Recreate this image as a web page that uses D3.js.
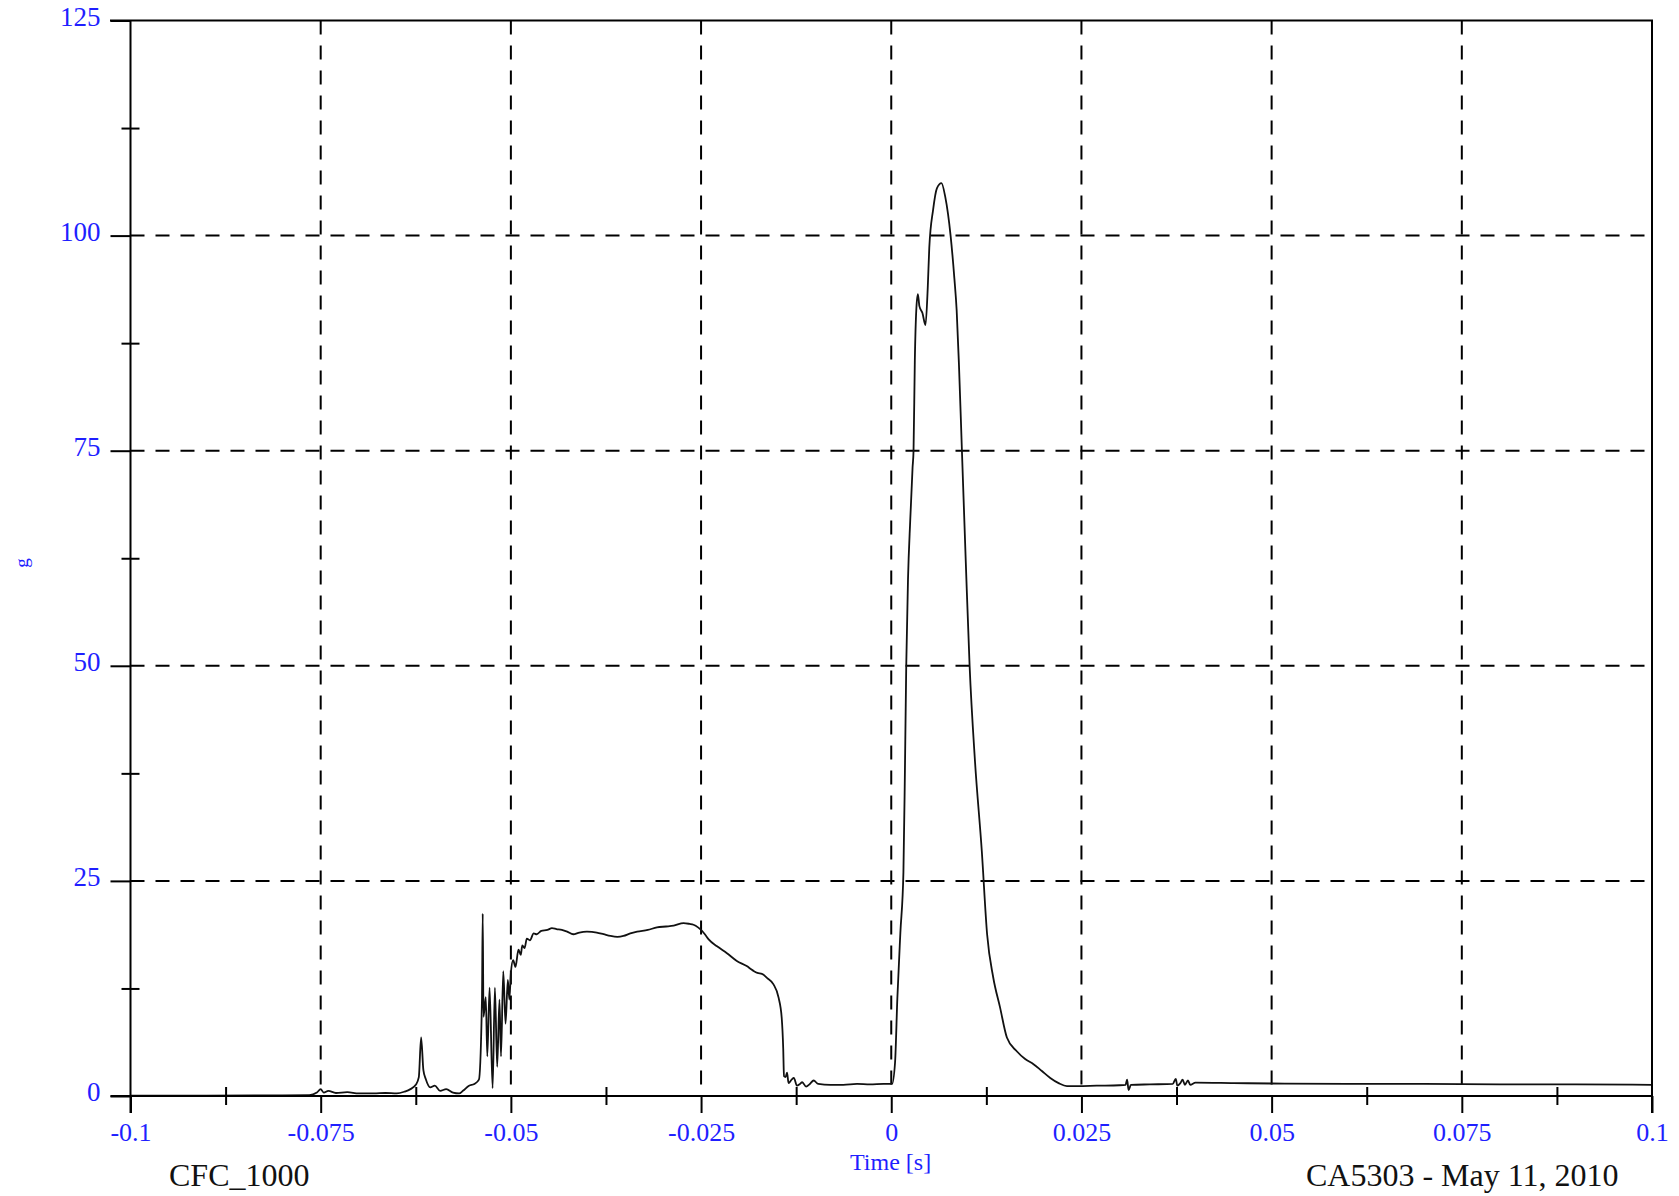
<!DOCTYPE html>
<html>
<head>
<meta charset="utf-8">
<script src="https://cdn.jsdelivr.net/npm/d3@7"></script>
<style>
html,body{margin:0;padding:0;background:#fff;}
svg{display:block;}
</style>
</head>
<body>
<svg id="chart" width="1679" height="1196"></svg>
<script>
// ---- data ----
const times = [
-0.1,-0.09,-0.08,-0.0765,-0.0755,-0.0750,-0.0746,-0.0740,-0.0730,-0.0715,-0.0700,-0.0680,-0.0665,-0.0650,-0.0640,-0.0632,-0.0625,-0.0621,-0.0618,-0.0615,-0.0612,-0.0606,-0.0600,-0.0593,-0.0585,-0.0576,-0.0568,-0.0563,-0.0555,-0.0548,-0.0542,
-0.0538,-0.0537,-0.0536,-0.0533,-0.0531,-0.0528,-0.0524,-0.0521,-0.0518,-0.0515,-0.0513,-0.0510,-0.0507,-0.0504,-0.0502,-0.0500,-0.0497,-0.0494,-0.0490,-0.0487,-0.0485,-0.0482,-0.0479,-0.0475,-0.0470,-0.0466,-0.0460,-0.0452,-0.0446,-0.0440,-0.0433,-0.0426,-0.0418,-0.0410,-0.0400,-0.0387,-0.0378,-0.0369,-0.0360,-0.0352,-0.0343,-0.0334,-0.0320,-0.0308,-0.0296,-0.0286,-0.0273,-0.0265,-0.0260,-0.0254,-0.0250,-0.0245,-0.0240,-0.0229,-0.0216,-0.0203,-0.0190,-0.0182,-0.0176,-0.0170,-0.0163,-0.0155,-0.0148,-0.0144,-0.0142,-0.0141,-0.0139,-0.0137,-0.0135,-0.0131,-0.0128,-0.0124,-0.0120,-0.0117,-0.0112,-0.0107,-0.0102,-0.0096,-0.0080,-0.0063,-0.0045,-0.0028,-0.0010,0.0001,
0.0005,0.0008,0.0012,0.0016,0.0018,0.00197,0.0022,0.0025,0.0028,0.00293,0.0031,0.0033,0.0035,0.0037,0.0041,0.0045,0.0048,0.0050,0.0055,0.0060,0.0066,0.0071,0.0078,0.0083,0.0086,0.0089,0.00929,0.0098,0.0103,0.0110,0.0119,0.0126,0.0134,0.0143,0.0152,0.0165,0.0176,0.0187,0.0198,0.0209,0.0220,0.0231,0.0245,0.0270,0.0300,0.0308,0.0310,0.0312,0.0315,0.0340,0.0370,0.0374,0.0376,0.0380,0.0383,0.0386,0.0390,0.0393,0.0400,0.0450,0.0500,0.0600,0.0700,0.0800,0.0900,0.1000
];
const accel = [
0.05,0.05,0.08,0.1,0.4,0.8,0.4,0.6,0.35,0.45,0.3,0.3,0.35,0.3,0.5,0.8,1.3,2.2,6.8,3.0,2.0,1.0,1.2,0.6,0.8,0.4,0.3,0.6,1.2,1.4,1.9,
11.2,21.2,9.2,11.5,4.6,12.6,0.9,12.6,3.4,11.2,4.6,14.5,8.4,13.5,11.2,14.3,15.8,15.0,17.0,16.4,17.5,17.2,18.3,18.1,18.9,18.8,19.2,19.3,19.5,19.4,19.3,19.1,18.8,19.0,19.1,19.0,18.8,18.6,18.5,18.6,18.9,19.1,19.3,19.6,19.7,19.8,20.1,20.0,19.9,19.6,19.3,18.8,18.2,17.4,16.6,15.7,15.1,14.6,14.3,14.2,13.7,13.0,11.4,9.1,5.5,2.3,2.2,2.7,1.5,1.9,2.1,1.2,1.4,1.6,1.1,1.4,1.8,1.4,1.3,1.3,1.4,1.35,1.4,1.4,
3.9,11.3,19.0,26.0,38,50,60,67,73,75,85.5,91.5,93.2,91.8,91.0,89.6,94.0,98.6,103.0,105.5,106.1,104.5,100.0,95.0,91.3,85.0,75,62,50,39,28.5,18.8,13.8,10.3,6.8,5.2,4.3,3.7,2.9,2.1,1.5,1.15,1.15,1.2,1.25,1.3,1.9,0.7,1.3,1.35,1.4,2.0,1.2,1.5,1.9,1.3,1.8,1.3,1.55,1.5,1.45,1.4,1.4,1.35,1.35,1.3
];
const xMajorTicks = [-0.1,-0.075,-0.05,-0.025,0,0.025,0.05,0.075,0.1];
const xTickLabels = ["-0.1","-0.075","-0.05","-0.025","0","0.025","0.05","0.075","0.1"];
const xMinorTicks = [-0.0875,-0.0625,-0.0375,-0.0125,0.0125,0.0375,0.0625,0.0875];
const yMajorTicks = [0,25,50,75,100,125];
const yTickLabels = ["0","25","50","75","100","125"];
const yMinorTicks = [12.5,37.5,62.5,87.5,112.5];
const xTitle = "Time [s]";
const yTitle = "g";
const leftNote = "CFC_1000";
const rightNote = "CA5303 - May 11, 2010";

// ---- layout ----
const L = 130.5, R = 1652, T = 20.5, B = 1096;
const serif = "'Liberation Serif','Times New Roman',serif";
const blue = "#1f1fff";

const svg = d3.select("#chart");
const x = d3.scaleLinear().domain([-0.1, 0.1]).range([L, R]);
const y = d3.scaleLinear().domain([0, 125]).range([B, T]);

// grid lines
const grid = svg.append("g").attr("stroke", "#000").attr("stroke-width", 2).attr("stroke-dasharray", "14,11");
grid.selectAll("line.v").data(xMajorTicks.slice(1, -1)).enter().append("line")
  .attr("x1", d => x(d)).attr("x2", d => x(d)).attr("y1", T).attr("y2", B);
grid.selectAll("line.h").data(yMajorTicks.slice(1, -1)).enter().append("line")
  .attr("y1", d => y(d)).attr("y2", d => y(d)).attr("x1", L).attr("x2", R);

// data line
const line = d3.line().curve(d3.curveMonotoneX).x((d, i) => x(times[i])).y((d, i) => y(accel[i]));
svg.append("path").datum(accel).attr("d", line)
  .attr("fill", "none").attr("stroke", "#111").attr("stroke-width", 1.8).attr("stroke-linejoin", "round");

// frame
const frame = svg.append("g").attr("stroke", "#000").attr("stroke-width", 2);
frame.append("line").attr("x1", 110).attr("x2", R + 1).attr("y1", T).attr("y2", T);
frame.append("line").attr("x1", R).attr("x2", R).attr("y1", T).attr("y2", B);

// bottom axis major
const xAxis = d3.axisBottom(x).tickValues(xMajorTicks).tickSize(17).tickPadding(10)
  .tickFormat((d, i) => xTickLabels[i]);
const gx = svg.append("g").attr("transform", `translate(0,${B})`).call(xAxis);
gx.select(".domain").attr("stroke-width", 2).attr("d", `M${L - 20},0H${R + 1}`);
gx.selectAll(".tick line").attr("stroke-width", 2);
gx.selectAll(".tick text").attr("fill", blue).attr("font-family", serif).attr("font-size", 26);

// bottom minor (crossing)
const xMinor = d3.axisBottom(x).tickValues(xMinorTicks).tickSize(18).tickFormat("");
const gxm = svg.append("g").attr("transform", `translate(0,${B - 9})`).call(xMinor);
gxm.select(".domain").remove();
gxm.selectAll(".tick line").attr("stroke-width", 2);

// left axis major
const yAxis = d3.axisLeft(y).tickValues(yMajorTicks).tickSize(20).tickPadding(10)
  .tickFormat((d, i) => yTickLabels[i]);
const gy = svg.append("g").attr("transform", `translate(${L},0)`).call(yAxis);
gy.select(".domain").attr("stroke-width", 2).attr("d", `M0,${T}V${B + 17}`);
gy.selectAll(".tick line").attr("stroke-width", 2);
gy.selectAll(".tick text").attr("fill", blue).attr("font-family", serif).attr("font-size", 27).attr("dy", "0.18em");

// left minor (crossing)
const yMinor = d3.axisLeft(y).tickValues(yMinorTicks).tickSize(18).tickFormat("");
const gym = svg.append("g").attr("transform", `translate(${L + 9},0)`).call(yMinor);
gym.select(".domain").remove();
gym.selectAll(".tick line").attr("stroke-width", 2);

// right end tick below
svg.append("line").attr("x1", R).attr("x2", R).attr("y1", B).attr("y2", B + 17).attr("stroke", "#000").attr("stroke-width", 2);

// titles
svg.append("text").attr("x", 850).attr("y", 1170).attr("fill", blue)
  .attr("font-family", serif).attr("font-size", 24).text(xTitle);
svg.append("text").attr("transform", "translate(28,563) rotate(-90)").attr("text-anchor", "middle")
  .attr("fill", blue).attr("font-family", serif).attr("font-size", 19).text(yTitle);
svg.append("text").attr("x", 169).attr("y", 1186).attr("fill", "#111")
  .attr("font-family", serif).attr("font-size", 32).text(leftNote);
svg.append("text").attr("x", 1306).attr("y", 1186).attr("fill", "#111")
  .attr("font-family", serif).attr("font-size", 32).text(rightNote);
</script>
</body>
</html>
